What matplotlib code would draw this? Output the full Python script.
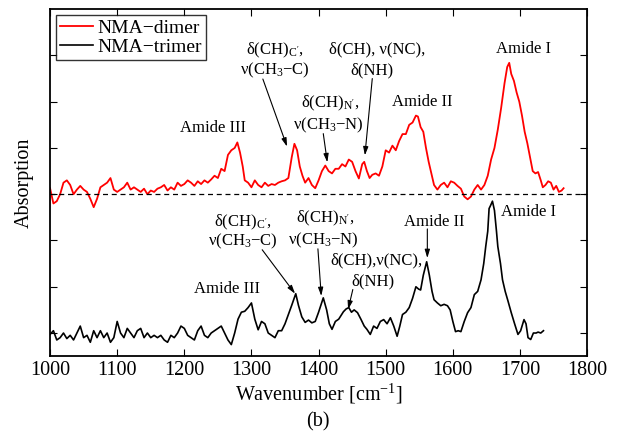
import matplotlib
matplotlib.use("Agg")
import matplotlib.pyplot as plt

plt.rcParams["font.family"] = ["Liberation Serif", "DejaVu Serif"]
plt.rcParams["mathtext.fontset"] = "custom"
plt.rcParams["mathtext.rm"] = "Liberation Serif"
plt.rcParams["mathtext.it"] = "Liberation Serif:italic"

# NMA-dimer spectrum
dimer_x = [1000, 1005, 1010, 1015, 1020, 1025, 1030, 1035, 1040, 1045, 1050, 1055, 1060, 1065,
           1070, 1075, 1080, 1085, 1090, 1095, 1100, 1105, 1110, 1115, 1120, 1125, 1130, 1135,
           1140, 1145, 1150, 1155, 1160, 1165, 1170, 1175, 1180, 1185, 1190, 1195, 1200, 1205,
           1210, 1215, 1220, 1225, 1230, 1235, 1240, 1245, 1250, 1255, 1260, 1265, 1270, 1275,
           1279, 1283, 1287, 1290, 1295, 1300, 1305, 1310, 1315, 1320, 1325, 1330, 1335, 1340,
           1345, 1350, 1355, 1360, 1364, 1368, 1372, 1376, 1380, 1385, 1390, 1395, 1400, 1405,
           1410, 1415, 1420, 1425, 1430, 1435, 1440, 1445, 1450, 1455, 1460, 1465, 1468, 1472,
           1476, 1480, 1485, 1490, 1495, 1500, 1505, 1510, 1515, 1520, 1525, 1530, 1535, 1540,
           1545, 1548, 1552, 1556, 1560, 1564, 1568, 1572, 1577, 1582, 1587, 1592, 1597, 1602,
           1607, 1612, 1617, 1622, 1627, 1632, 1637, 1642, 1647, 1652, 1657, 1662, 1667, 1672,
           1677, 1681, 1684, 1687, 1691, 1695, 1699, 1703, 1707, 1711, 1715, 1719, 1723, 1727,
           1731, 1734, 1738, 1742, 1746, 1750, 1754, 1758, 1762, 1765]
dimer_y = [0.13, -0.2, -0.15, 0.0, 0.25, 0.3, 0.2, 0.0, 0.1, 0.18, 0.1, 0.05, -0.1, -0.28,
           -0.1, 0.15, 0.2, 0.25, 0.35, 0.1, 0.05, 0.1, 0.15, 0.25, 0.1, 0.15, 0.1, 0.05,
           0.12, 0.0, 0.08, 0.05, 0.12, 0.15, 0.2, 0.08, 0.15, 0.1, 0.25, 0.18, 0.22, 0.3,
           0.25, 0.18, 0.28, 0.22, 0.3, 0.25, 0.32, 0.4, 0.35, 0.55, 0.5, 0.85, 0.95, 1.0,
           1.12, 0.9, 0.6, 0.3, 0.25, 0.15, 0.3, 0.2, 0.15, 0.25, 0.18, 0.22, 0.2, 0.25,
           0.28, 0.3, 0.35, 0.8, 1.09, 0.95, 0.6, 0.4, 0.25, 0.35, 0.2, 0.13, 0.3, 0.5,
           0.62, 0.5, 0.45, 0.55, 0.55, 0.65, 0.6, 0.75, 0.7, 0.5, 0.34, 0.65, 0.7, 0.5,
           0.35, 0.42, 0.45, 0.4, 0.6, 0.95, 0.9, 1.05, 0.95, 1.15, 1.3, 1.3, 1.5, 1.55,
           1.7, 1.68, 1.45, 1.35, 1.0, 0.7, 0.45, 0.2, 0.1, 0.2, 0.25, 0.15, 0.28, 0.25,
           0.18, 0.12, -0.05, -0.11, -0.05, 0.1, 0.2, 0.1, 0.2, 0.4, 0.75, 1.0, 1.4, 1.87,
           2.4, 2.75, 2.84, 2.6, 2.45, 2.2, 2.0, 1.7, 1.35, 1.1, 0.8, 0.5, 0.45, 0.48,
           0.3, 0.15, 0.2, 0.28, 0.25, 0.1, 0.18, 0.05, 0.08, 0.13]

# NMA-trimer spectrum (offset below the dashed line)
trimer_x = [1000, 1005, 1010, 1015, 1020, 1025, 1030, 1035, 1040, 1045, 1050, 1055, 1060, 1065,
            1070, 1075, 1080, 1085, 1090, 1095, 1100, 1105, 1110, 1115, 1120, 1125, 1130, 1135,
            1140, 1145, 1150, 1155, 1160, 1165, 1170, 1175, 1180, 1185, 1190, 1195, 1200, 1205,
            1210, 1215, 1220, 1225, 1230, 1235, 1240, 1245, 1250, 1255, 1260, 1265, 1270, 1275,
            1280, 1285, 1290, 1295, 1300, 1305, 1310, 1315, 1320, 1325, 1330, 1335, 1340, 1345,
            1350, 1355, 1360, 1366, 1370, 1375, 1380, 1385, 1390, 1395, 1400, 1407, 1412, 1416,
            1420, 1425, 1430, 1437, 1441, 1445, 1449, 1453, 1458, 1463, 1468, 1472, 1477, 1482,
            1487, 1492, 1497, 1502, 1507, 1512, 1517, 1521, 1525, 1530, 1535, 1540, 1545, 1549,
            1552, 1556, 1561, 1565, 1569, 1572, 1577, 1582, 1587, 1592, 1596, 1600, 1604, 1608,
            1612, 1617, 1622, 1627, 1632, 1637, 1642, 1646, 1649, 1652, 1654, 1656, 1659, 1662,
            1665, 1667, 1671, 1674, 1678, 1682, 1687, 1692, 1697, 1701, 1706, 1709, 1712, 1716,
            1720, 1724, 1727, 1731, 1735]
trimer_y = [-3.03, -2.95, -3.15, -3.1, -3.0, -3.12, -3.05, -3.15, -3.0, -2.85, -3.1, -3.05, -3.2, -2.95,
            -3.1, -2.95, -3.1, -3.0, -3.2, -3.1, -2.75, -3.0, -3.1, -2.9, -3.0, -3.1, -2.95, -2.9,
            -3.1, -3.0, -3.1, -3.05, -3.1, -3.05, -3.15, -3.2, -3.05, -3.1, -3.0, -2.85, -2.9, -3.05,
            -3.1, -3.15, -2.95, -2.85, -3.05, -3.1, -3.0, -2.95, -2.9, -2.85, -3.0, -3.15, -3.25, -3.0,
            -2.7, -2.55, -2.53, -2.45, -2.35, -2.7, -2.93, -2.75, -2.8, -3.0, -3.05, -3.1, -2.95, -2.95,
            -2.8, -2.6, -2.4, -2.15, -2.4, -2.65, -2.77, -2.72, -2.78, -2.75, -2.55, -2.24, -2.5, -2.8,
            -2.92, -2.75, -2.7, -2.54, -2.48, -2.45, -2.55, -2.5, -2.56, -2.7, -2.85, -2.92, -3.03, -2.85,
            -2.9, -2.75, -2.71, -2.8, -2.67, -2.85, -3.07, -2.85, -2.6, -2.55, -2.45, -2.25, -2.0, -2.05,
            -2.07, -1.75, -1.46, -1.75, -2.1, -2.28, -2.35, -2.41, -2.38, -2.41, -2.5, -2.75, -2.97, -2.95,
            -2.97, -2.75, -2.56, -2.45, -2.17, -2.1, -1.85, -1.5, -1.13, -0.8, -0.31, -0.25, -0.15, -0.35,
            -0.8, -1.13, -1.5, -1.85, -2.1, -2.3, -2.56, -2.8, -3.03, -2.95, -2.71, -2.8, -3.1, -3.14,
            -3.0, -3.0, -2.98, -3.0, -2.95]

xticks = [1000, 1100, 1200, 1300, 1400, 1500, 1600, 1700, 1800]

fig = plt.figure(figsize=(6.18, 4.37), dpi=100)
ax = fig.add_axes([0.081, 0.185, 0.869, 0.794])

ax.plot(dimer_x, dimer_y, color="#ff0000", lw=1.3, label="NMA\u2212dimer")
ax.plot(trimer_x, trimer_y, color="black", lw=1.2, label="NMA\u2212trimer")
ax.axhline(0, color="black", lw=0.9, ls=(0, (4, 3)))

ax.set_xlim(1000, 1800)
ax.set_ylim(-3.5, 4)
ax.set_xticks(xticks)
ax.set_yticks([-3, -2, -1, 0, 1, 2, 3])
ax.set_yticklabels([])
ax.tick_params(direction="in", top=True, right=True, length=5, width=0.8, labelsize=14.5)
for s in ax.spines.values():
    s.set_linewidth(1.3)

ax.set_xlabel("Wavenumber [cm$^{-1}$]", fontsize=14.5, labelpad=1)
ax.set_ylabel("Absorption", fontsize=14.5, labelpad=8)
fig.text(0.515, 0.035, "(b)", ha="center", va="center", fontsize=14.5)

leg = ax.legend(loc="upper left", fontsize=14, frameon=True, fancybox=False,
                edgecolor="black", borderaxespad=0.3, handlelength=1.7,
                borderpad=0.2, labelspacing=0.1, handletextpad=0.25)
leg.get_frame().set_linewidth(1.0)

fs = 12
arr = dict(arrowstyle="-|>,head_length=0.5,head_width=0.15", color="black", lw=0.8,
           shrinkA=0, shrinkB=0)

# upper (dimer) labels
ax.text(1243, 1.44, "Amide III", ha="center", va="center", fontsize=fs)
ax.text(1335, 3.1, "\u03b4(CH)$_{\\mathrm{C'}}$,", ha="center", va="center", fontsize=fs)
ax.text(1335, 2.67, "\u03bd(CH$_{\\mathrm{3}}$\u2212C)", ha="center", va="center", fontsize=fs)
ax.annotate("", xy=(1353, 1.03), xytext=(1317, 2.49), arrowprops=arr)
ax.text(1417, 1.96, "\u03b4(CH)$_{\\mathrm{N'}}$,", ha="center", va="center", fontsize=fs)
ax.text(1414, 1.48, "\u03bd(CH$_{\\mathrm{3}}$\u2212N)", ha="center", va="center", fontsize=fs)
ax.annotate("", xy=(1413, 0.69), xytext=(1407, 1.31), arrowprops=arr)
ax.text(1487, 3.14, "\u03b4(CH), \u03bd(NC),", ha="center", va="center", fontsize=fs)
ax.text(1480, 2.67, "\u03b4(NH)", ha="center", va="center", fontsize=fs)
ax.annotate("", xy=(1469, 0.84), xytext=(1480, 2.5), arrowprops=arr)
ax.text(1554, 2.0, "Amide II", ha="center", va="center", fontsize=fs)
ax.text(1706, 3.14, "Amide I", ha="center", va="center", fontsize=fs)

# lower (trimer) labels
ax.text(1287, -0.6, "\u03b4(CH)$_{\\mathrm{C'}}$,", ha="center", va="center", fontsize=fs)
ax.text(1287, -1.03, "\u03bd(CH$_{\\mathrm{3}}$\u2212C)", ha="center", va="center", fontsize=fs)
ax.annotate("", xy=(1365, -2.15), xytext=(1316, -1.2), arrowprops=arr)
ax.text(1410, -0.52, "\u03b4(CH)$_{\\mathrm{N'}}$,", ha="center", va="center", fontsize=fs)
ax.text(1407, -0.99, "\u03bd(CH$_{\\mathrm{3}}$\u2212N)", ha="center", va="center", fontsize=fs)
ax.annotate("", xy=(1404, -2.2), xytext=(1399, -1.18), arrowprops=arr)
ax.text(1264, -2.04, "Amide III", ha="center", va="center", fontsize=fs)
ax.text(1486, -1.44, "\u03b4(CH),\u03bd(NC),", ha="center", va="center", fontsize=fs)
ax.text(1481, -1.89, "\u03b4(NH)", ha="center", va="center", fontsize=fs)
ax.annotate("", xy=(1444, -2.49), xytext=(1451, -2.06), arrowprops=arr)
ax.text(1572, -0.6, "Amide II", ha="center", va="center", fontsize=fs)
ax.annotate("", xy=(1562, -1.38), xytext=(1562, -0.75), arrowprops=arr)
ax.text(1712, -0.39, "Amide I", ha="center", va="center", fontsize=fs)

fig.savefig("out.png", dpi=100)
